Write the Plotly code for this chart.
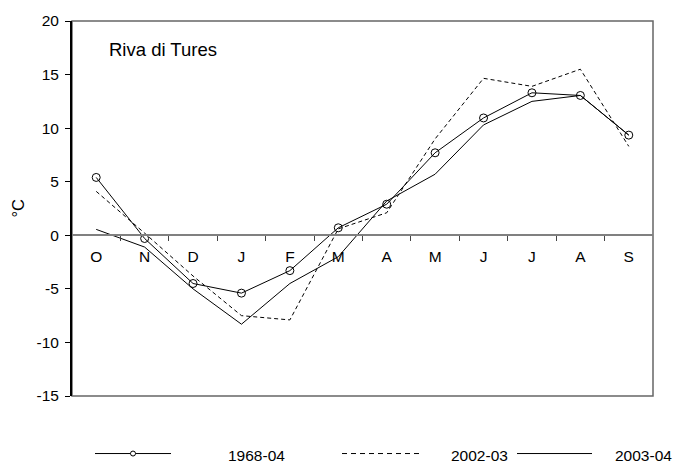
import plotly.graph_objects as go

months = ["O", "N", "D", "J", "F", "M", "A", "M", "J", "J", "A", "S"]
t_1968_04 = [5.4, -0.3, -4.5, -5.4, -3.3, 0.7, 2.9, 7.7, 10.95, 13.3, 13.05, 9.35]
t_2002_03 = [4.1, 0.2, -3.8, -7.5, -7.9, 0.6, 2.1, 9.0, 14.65, 13.9, 15.5, 8.3]
t_2003_04 = [0.55, -1.1, -5.0, -8.3, -4.5, -2.0, 3.2, 5.7, 10.3, 12.5, 13.05, 9.35]
series_names = ["1968-04", "2002-03", "2003-04"]
y_ticks = [-15, -10, -5, 0, 5, 10, 15, 20]
y_ticktext = ["-15", "-10", "-5", "0", "5", "10", "15", "20"]
station = "Riva di Tures"

FONT = "Arial, Liberation Sans, sans-serif"
W, H = 685, 470
L, R, T, B = 72, 32, 18, 74
pw, ph = W - L - R, H - T - B

def px(p):
    return (p - L) / pw

def py(p):
    return (H - B - p) / ph

xs = list(range(len(months)))
fig = go.Figure()
fig.add_trace(go.Scatter(x=xs, y=t_2002_03, mode="lines", name=series_names[1],
                         line=dict(color="black", width=1, dash="4px,3px"), showlegend=False))
fig.add_trace(go.Scatter(x=xs, y=t_2003_04, mode="lines", name=series_names[2],
                         line=dict(color="black", width=1), showlegend=False))
fig.add_trace(go.Scatter(x=xs, y=t_1968_04, mode="lines+markers", name=series_names[0],
                         line=dict(color="black", width=1),
                         marker=dict(symbol="circle-open", size=8, color="black", line=dict(width=1)),
                         showlegend=False))

ymin, ymax = y_ticks[0], y_ticks[-1]
fig.update_layout(
    width=W, height=H, margin=dict(l=L, r=R, t=T, b=B),
    paper_bgcolor="white", plot_bgcolor="white",
    font=dict(family=FONT, size=15.5, color="black"),
    xaxis=dict(range=[-0.5, len(months) - 0.5], tickmode="array", tickvals=xs, ticktext=months,
               ticks="", showgrid=False, zeroline=False, showline=True, linecolor="#808080", linewidth=1.5,
               anchor="free", position=(0 - ymin) / (ymax - ymin), ticklabelstandoff=7,
               minor=dict(tickvals=[i + 0.5 for i in xs[:-1]], ticks="outside", ticklen=5,
                          tickcolor="#444444", tickwidth=1, showgrid=False),
               tickfont=dict(size=15.5)),
    yaxis=dict(range=[ymin, ymax], tickmode="array", tickvals=y_ticks, ticktext=y_ticktext,
               ticks="outside", ticklen=5,
               tickcolor="black", tickwidth=1, showgrid=False, zeroline=False, showline=True,
               linecolor="black", linewidth=2, ticklabelstandoff=3, tickfont=dict(size=15.5)),
)

# plot frame (top, right, bottom)
fig.add_shape(type="rect", xref="paper", yref="paper", x0=0, x1=1, y0=0, y1=1,
              line=dict(color="#666666", width=1.5), layer="below")

# station label
fig.add_annotation(text=station, xref="paper", yref="paper", x=px(107), y=py(47),
                   xanchor="left", yanchor="middle", showarrow=False, font=dict(size=18.5))
# y-axis title
fig.add_annotation(text="°C", xref="paper", yref="paper", x=px(17), y=0.5, textangle=-90,
                   xanchor="center", yanchor="middle", showarrow=False, font=dict(size=16.5))

# legend (drawn as key)
leg_y = 454
samples = [(95, 171, None, 226), (342, 419, "5px,4px", 449), (517, 592, None, 613)]
for (a, b, dash, tx), name in zip(samples, series_names):
    fig.add_shape(type="line", xref="paper", yref="paper", x0=px(a), x1=px(b), y0=py(leg_y), y1=py(leg_y),
                  line=dict(color="black", width=1, dash=dash if dash else "solid"))
    fig.add_annotation(text=name, xref="paper", yref="paper", x=px(tx), y=py(leg_y + 2),
                       xanchor="left", yanchor="middle", showarrow=False, font=dict(size=15.5))
fig.add_shape(type="circle", xref="paper", yref="paper", xsizemode="pixel", ysizemode="pixel",
              xanchor=px(133), yanchor=py(leg_y), x0=-2.5, x1=2.5, y0=-2.5, y1=2.5,
              line=dict(color="black", width=1), fillcolor="white")

fig.write_html("out.html")
